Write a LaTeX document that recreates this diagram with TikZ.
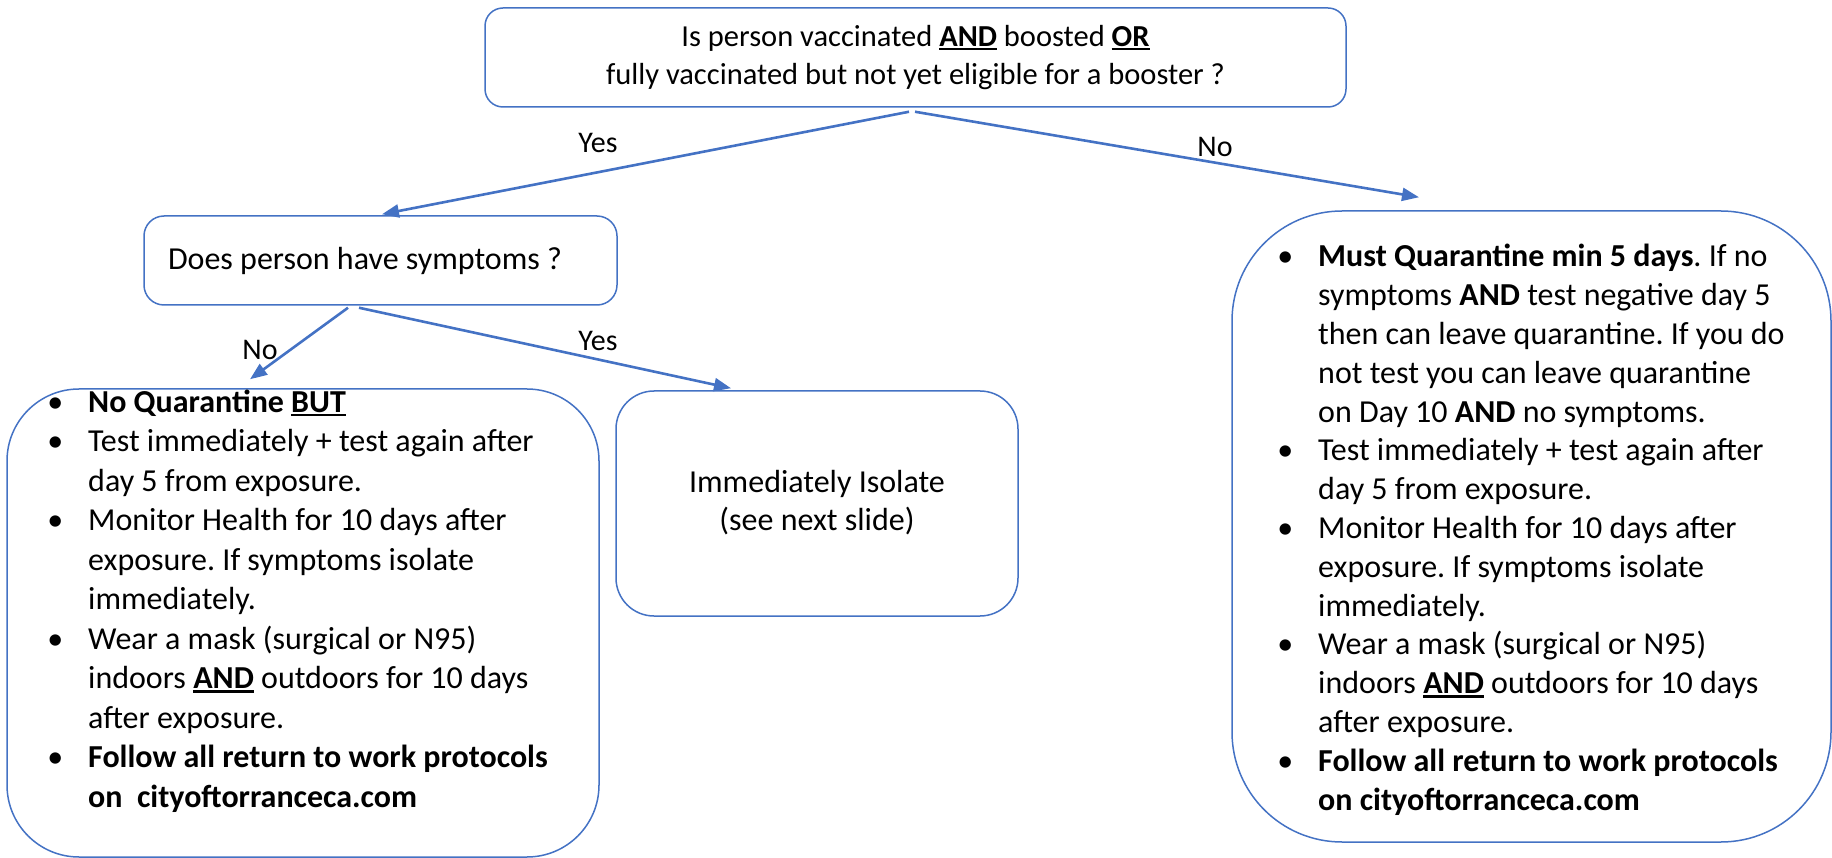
\documentclass[tikz,border=0pt]{standalone}
\usepackage{fontspec}
\setmainfont{Carlito}
\usetikzlibrary{arrows.meta,calc}
\definecolor{obl}{HTML}{4472C4}
\newcommand{\ulx}[1]{\setbox0\hbox{#1}\rlap{\rule[-4pt]{\wd0}{2.2pt}}\box0\relax}
\newcommand{\bul}{\makebox[0pt][r]{\textbullet\hspace{25pt}}}
\frenchspacing
\begin{document}
\begin{tikzpicture}[x=1pt,y=-1pt,
  box/.style={draw=obl, line width=1.5pt, fill=white, inner sep=0pt},
  conn/.style={draw=obl, line width=2.6pt, -{Triangle[length=17pt,width=13pt]}},
  lbl/.style={font=\fontsize{30}{36}\selectfont, inner sep=0pt},
  txt/.style={font=\fontsize{32}{39.5}\selectfont, align=left, inner sep=0pt, anchor=base west}]
\useasboundingbox (0,0) rectangle (1832,858);

\node[box, rounded corners=18pt, minimum width=861pt, minimum height=99pt,
  font=\fontsize{30.5}{38}\selectfont] (top) at (915.5,57.5)
  {\raisebox{-4pt}{\begin{tabular}{@{}c@{}}Is person vaccinated \ulx{\textbf{AND}} boosted \ulx{\textbf{OR}}\\
   fully vaccinated but not yet eligible for a booster ?\end{tabular}}};

\node[box, rounded corners=20pt, minimum width=473pt, minimum height=89pt,
  font=\fontsize{32}{38}\selectfont] (sym) at (380.5,260.5)
  {\raisebox{-5pt}{\makebox[473pt][l]{\hspace{24pt}Does person have symptoms ?}}};

\node[box, rounded corners=38pt, minimum width=402pt, minimum height=225pt,
  font=\fontsize{32}{38}\selectfont] (iso) at (817,503.5)
  {\raisebox{-5pt}{\begin{tabular}{@{}c@{}}Immediately Isolate\\(see next slide)\end{tabular}}};

\node[box, rounded corners=72pt, minimum width=592pt, minimum height=468pt] (lbox) at (303,623) {};
\node[box, rounded corners=110pt, minimum width=599pt, minimum height=631pt] (rbox) at (1531.5,526.5) {};

\node[txt] (ltext) at (88,807) {%
\bul\textbf{No Quarantine \ulx{BUT}}\\
\bul Test immediately + test again after\\
day 5 from exposure.\\
\bul Monitor Health for 10 days after\\
exposure. If symptoms isolate\\
immediately.\\
\bul Wear a mask (surgical or N95)\\
indoors \ulx{\textbf{AND}} outdoors for 10 days\\
after exposure.\\
\bul\textbf{Follow all return to work protocols}\\
\textbf{on\ \ cityoftorranceca.com}};

\node[txt, font=\fontsize{32}{38.8}\selectfont] (rtext) at (1318,810) {%
\bul\textbf{Must Quarantine min 5 days}. If no\\
symptoms \textbf{AND} test negative day 5\\
then can leave quarantine. If you do\\
not test you can leave quarantine\\
on Day 10 \textbf{AND} no symptoms.\\
\bul Test immediately + test again after\\
day 5 from exposure.\\
\bul Monitor Health for 10 days after\\
exposure. If symptoms isolate\\
immediately.\\
\bul Wear a mask (surgical or N95)\\
indoors \ulx{\textbf{AND}} outdoors for 10 days\\
after exposure.\\
\bul\textbf{Follow all return to work protocols}\\
\textbf{on cityoftorranceca.com}};

\draw[conn] ($(top.south)+(-6.5,4)$) -- ($(sym.north)+(1.5,-1)$);
\draw[conn] ($(top.south)+(-0.5,4)$) -- ($(rbox.north)+(-112.5,-13)$);
\draw[conn] ($(sym.south)+(-32.5,2)$) -- ($(lbox.north)+(-53,-9)$);
\draw[conn] ($(sym.south)+(-21.5,2)$) -- ($(iso.north)+(-86,-2)$);

\node[lbl] (yes1) at (598,143) {Yes};
\node[lbl] (no1) at (1215,147) {No};
\node[lbl] (no2) at (260,350) {No};
\node[lbl] (yes2) at (598,341) {Yes};
\end{tikzpicture}
\end{document}
